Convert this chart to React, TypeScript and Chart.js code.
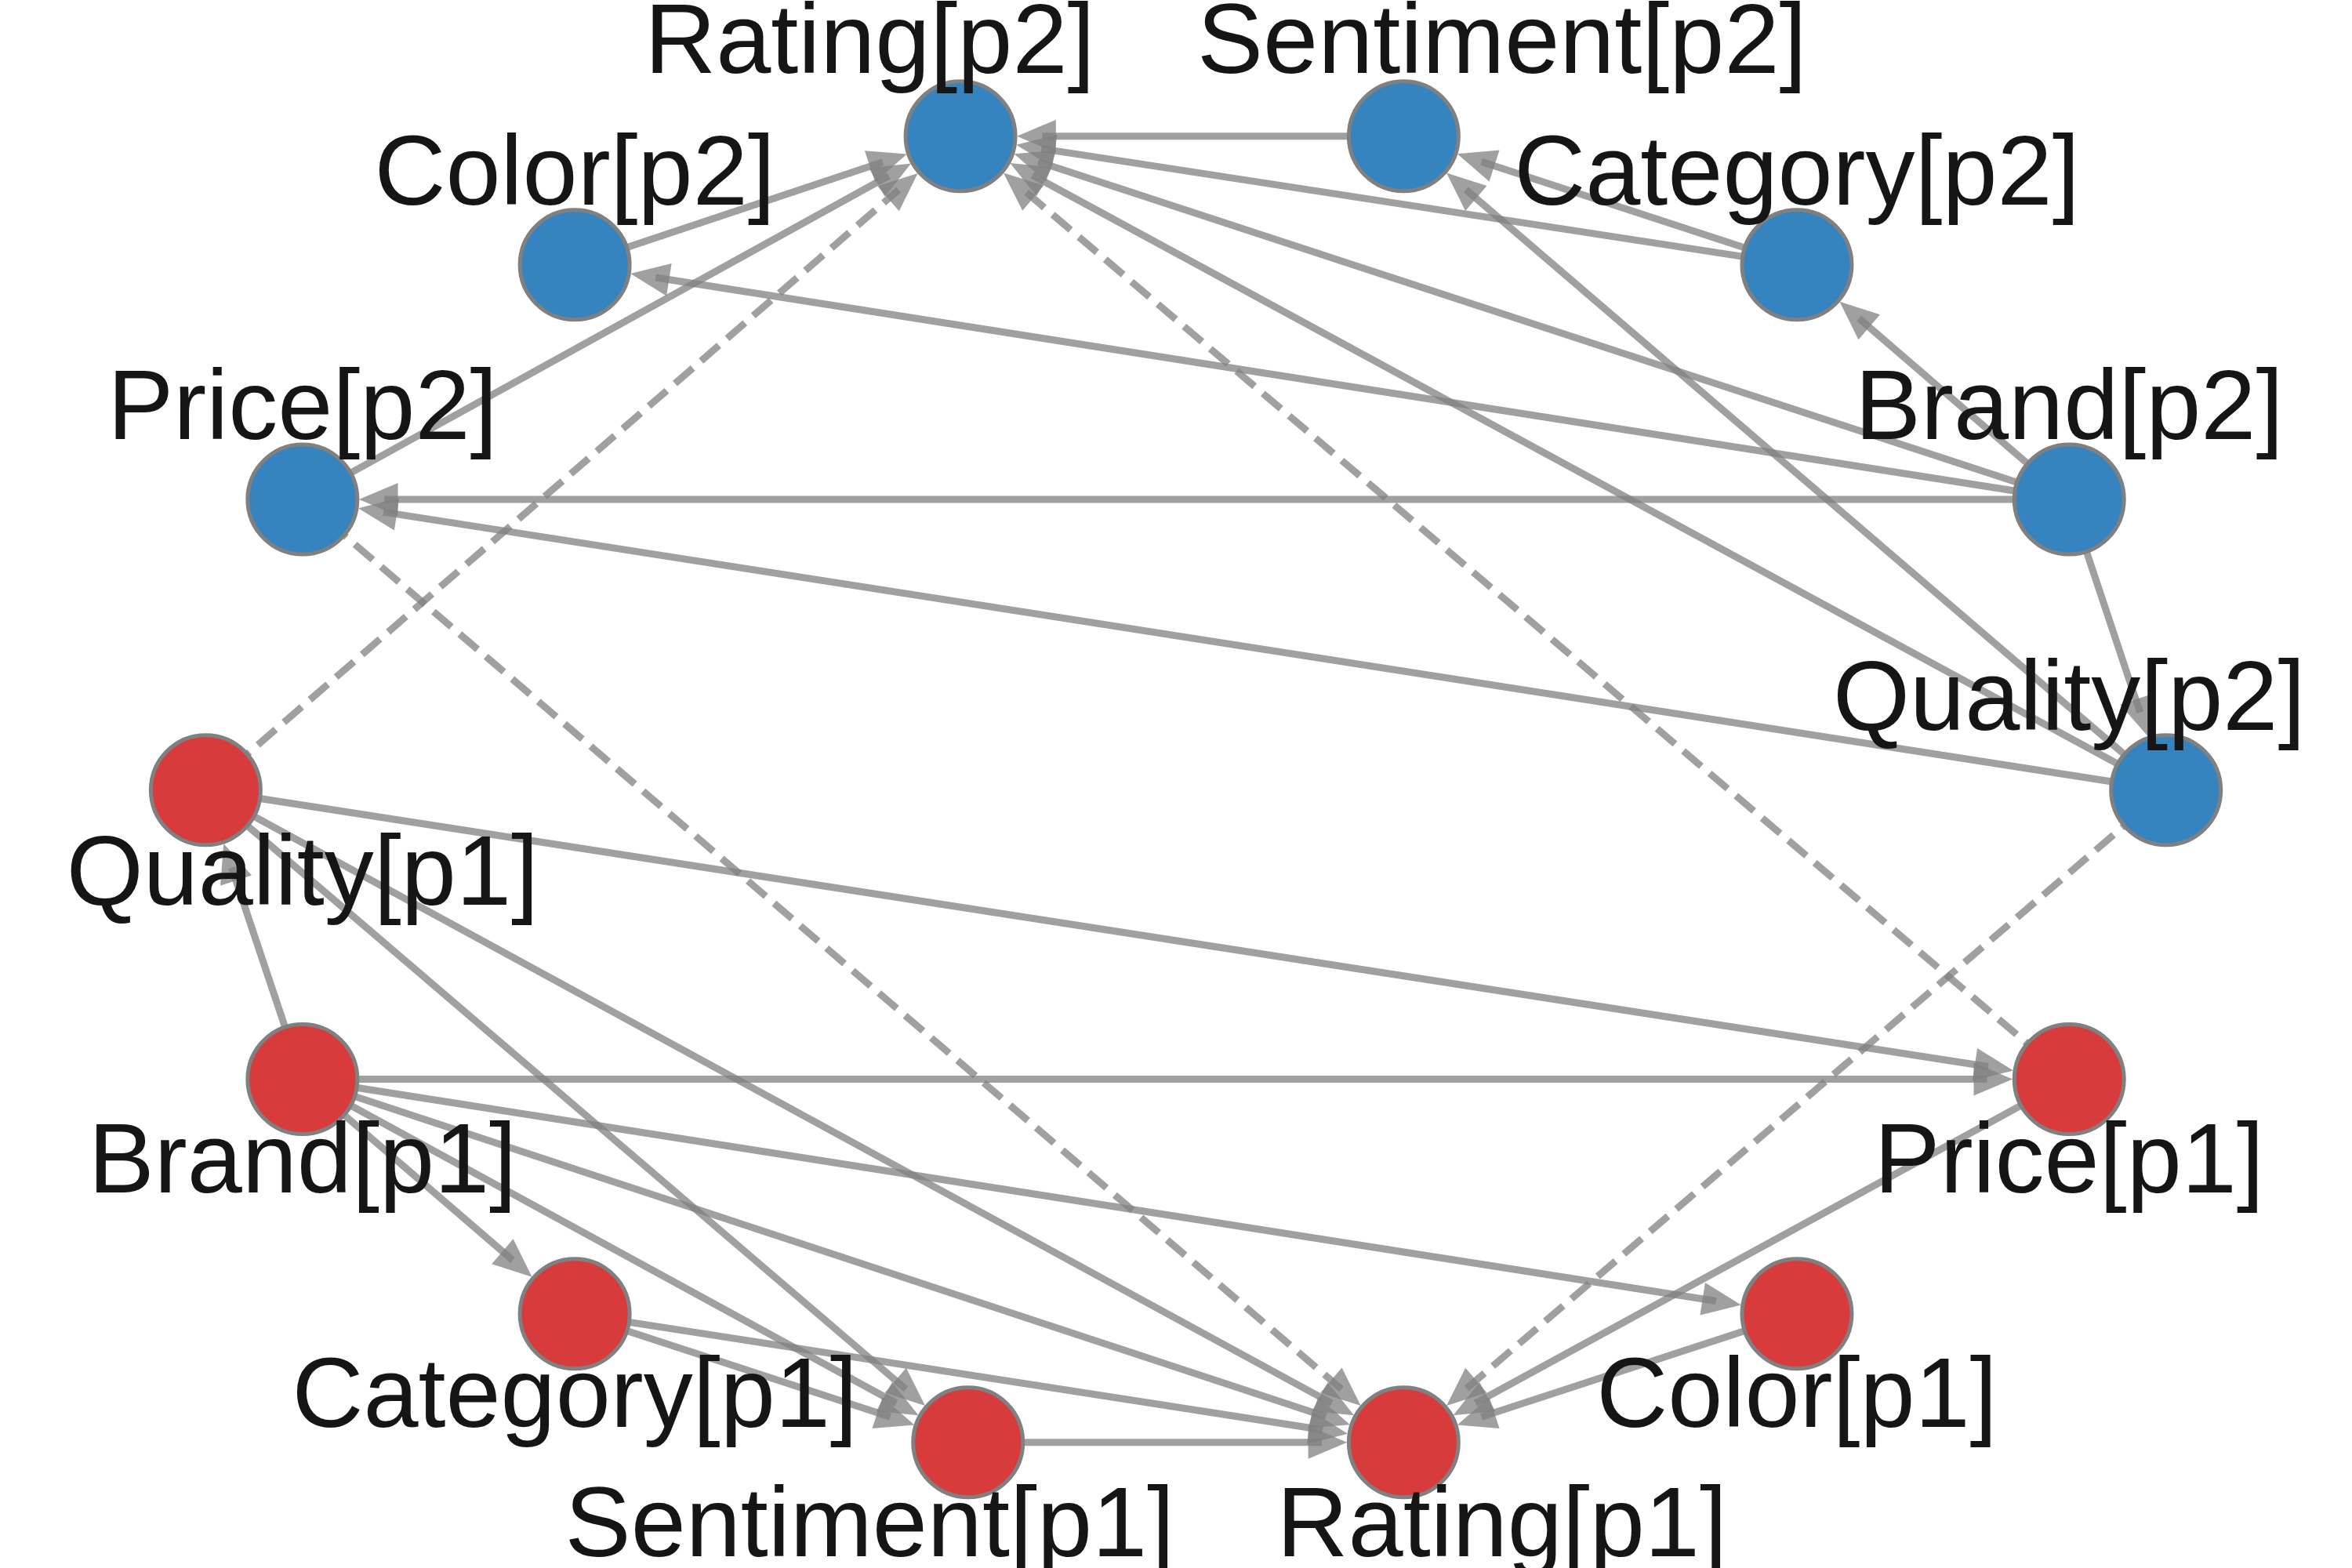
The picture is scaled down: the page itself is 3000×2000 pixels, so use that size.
import { useEffect, useRef } from 'react'
import { Chart, registerables } from 'chart.js'
import type { Plugin } from 'chart.js'

Chart.register(...registerables)

// node layout (in image units, 1555 x 1036 grid)
const nodeNames = [
  'Rating[p2]', 'Sentiment[p2]', 'Category[p2]', 'Color[p2]', 'Brand[p2]', 'Price[p2]', 'Quality[p2]',
  'Quality[p1]', 'Price[p1]', 'Brand[p1]', 'Color[p1]', 'Category[p1]', 'Rating[p1]', 'Sentiment[p1]',
]
const nodeX = [635, 928, 1188, 380, 1368, 200, 1432, 136, 1368, 200, 1188, 380, 928, 640]
const nodeY = [90, 90, 175, 175, 330, 330, 522, 522, 713, 713, 868, 868, 953, 953]
const nodeGroup = ['p2', 'p2', 'p2', 'p2', 'p2', 'p2', 'p2', 'p1', 'p1', 'p1', 'p1', 'p1', 'p1', 'p1']
const labelX = [575, 993, 1188, 380, 1368, 200, 1368, 200, 1368, 200, 1188, 380, 993, 575]
const labelY = [30, 30, 117, 117, 272, 272, 464, 580, 770, 770, 925, 925, 1010, 1010]

// edges
const edgeFrom = [
  'Sentiment[p2]', 'Color[p2]', 'Price[p2]', 'Category[p2]', 'Category[p2]', 'Brand[p2]', 'Brand[p2]',
  'Brand[p2]', 'Brand[p2]', 'Brand[p2]', 'Quality[p2]', 'Quality[p2]', 'Quality[p2]', 'Quality[p2]',
  'Quality[p1]', 'Price[p2]', 'Price[p1]', 'Quality[p1]', 'Brand[p1]', 'Quality[p1]', 'Quality[p1]',
  'Brand[p1]', 'Brand[p1]', 'Brand[p1]', 'Brand[p1]', 'Brand[p1]', 'Category[p1]', 'Category[p1]',
  'Sentiment[p1]', 'Color[p1]', 'Price[p1]',
]
const edgeTo = [
  'Rating[p2]', 'Rating[p2]', 'Rating[p2]', 'Rating[p2]', 'Sentiment[p2]', 'Category[p2]', 'Rating[p2]',
  'Color[p2]', 'Price[p2]', 'Quality[p2]', 'Rating[p2]', 'Sentiment[p2]', 'Price[p2]', 'Rating[p1]',
  'Rating[p2]', 'Rating[p1]', 'Rating[p2]', 'Price[p1]', 'Quality[p1]', 'Sentiment[p1]', 'Rating[p1]',
  'Price[p1]', 'Color[p1]', 'Category[p1]', 'Sentiment[p1]', 'Rating[p1]', 'Sentiment[p1]', 'Rating[p1]',
  'Rating[p1]', 'Rating[p1]', 'Rating[p1]',
]
const edgeDashed = [
  false, false, false, false, false, false, false, false, false, false, false, false, false, true,
  true, true, true, false, false, false, false, false, false, false, false, false, false, false,
  false, false, false,
]

const groupColor: Record<string, string> = { p1: '#d83b3b', p2: '#3584bf' }
const RADIUS = 70

const graphPlugin: Plugin<'scatter'> = {
  id: 'graph',
  beforeDatasetsDraw(chart) {
    const { ctx, scales } = chart
    const px = (i: number) => scales.x.getPixelForValue(nodeX[i])
    const py = (i: number) => scales.y.getPixelForValue(nodeY[i])
    ctx.save()
    edgeFrom.forEach((f, k) => {
      const a = nodeNames.indexOf(f)
      const b = nodeNames.indexOf(edgeTo[k])
      const x1 = px(a), y1 = py(a), x2 = px(b), y2 = py(b)
      const ang = Math.atan2(y2 - y1, x2 - x1)
      const ex = x2 - Math.cos(ang) * (RADIUS + 2)
      const ey = y2 - Math.sin(ang) * (RADIUS + 2)
      const head = 54
      ctx.strokeStyle = 'rgba(128,128,128,0.75)'
      ctx.fillStyle = 'rgba(128,128,128,0.75)'
      ctx.lineWidth = 9
      ctx.setLineDash(edgeDashed[k] ? [30, 14] : [])
      ctx.beginPath()
      ctx.moveTo(x1, y1)
      ctx.lineTo(ex - Math.cos(ang) * head * 0.6, ey - Math.sin(ang) * head * 0.6)
      ctx.stroke()
      ctx.setLineDash([])
      ctx.beginPath()
      ctx.moveTo(ex, ey)
      ctx.lineTo(ex - head * Math.cos(ang - 0.4), ey - head * Math.sin(ang - 0.4))
      ctx.lineTo(ex - head * Math.cos(ang + 0.4), ey - head * Math.sin(ang + 0.4))
      ctx.closePath()
      ctx.fill()
    })
    ctx.restore()
  },
  afterDatasetsDraw(chart) {
    const { ctx, scales } = chart
    ctx.save()
    ctx.fillStyle = '#151515'
    ctx.font = '126px "Liberation Sans", Arial, sans-serif'
    ctx.textAlign = 'center'
    ctx.textBaseline = 'middle'
    nodeNames.forEach((n, i) => {
      ctx.fillText(n, scales.x.getPixelForValue(labelX[i]), scales.y.getPixelForValue(labelY[i]))
    })
    ctx.restore()
  },
}

function App() {
  const canvasRef = useRef<HTMLCanvasElement>(null)

  useEffect(() => {
    const canvas = canvasRef.current
    if (!canvas) return
    const chart = new Chart(canvas, {
      type: 'scatter',
      data: {
        datasets: [
          {
            data: nodeX.map((x, i) => ({ x, y: nodeY[i] })),
            backgroundColor: nodeGroup.map((g) => groupColor[g]),
            borderColor: '#808080',
            borderWidth: 5,
            pointRadius: RADIUS,
            pointHoverRadius: RADIUS,
          },
        ],
      },
      options: {
        responsive: false,
        animation: false,
        devicePixelRatio: 1,
        layout: { padding: 0, autoPadding: false },
        plugins: { legend: { display: false }, tooltip: { enabled: false } },
        scales: {
          x: { type: 'linear', display: false, min: 0, max: 1555 },
          y: { type: 'linear', display: false, min: 0, max: 1036, reverse: true },
        },
      },
      plugins: [graphPlugin],
    })
    return () => chart.destroy()
  }, [])

  return (
    <div style={{ position: 'absolute', left: 0, top: 0, width: 3000, height: 2000, background: '#fff' }}>
      <canvas ref={canvasRef} width={3000} height={2000} />
    </div>
  )
}

export default App
